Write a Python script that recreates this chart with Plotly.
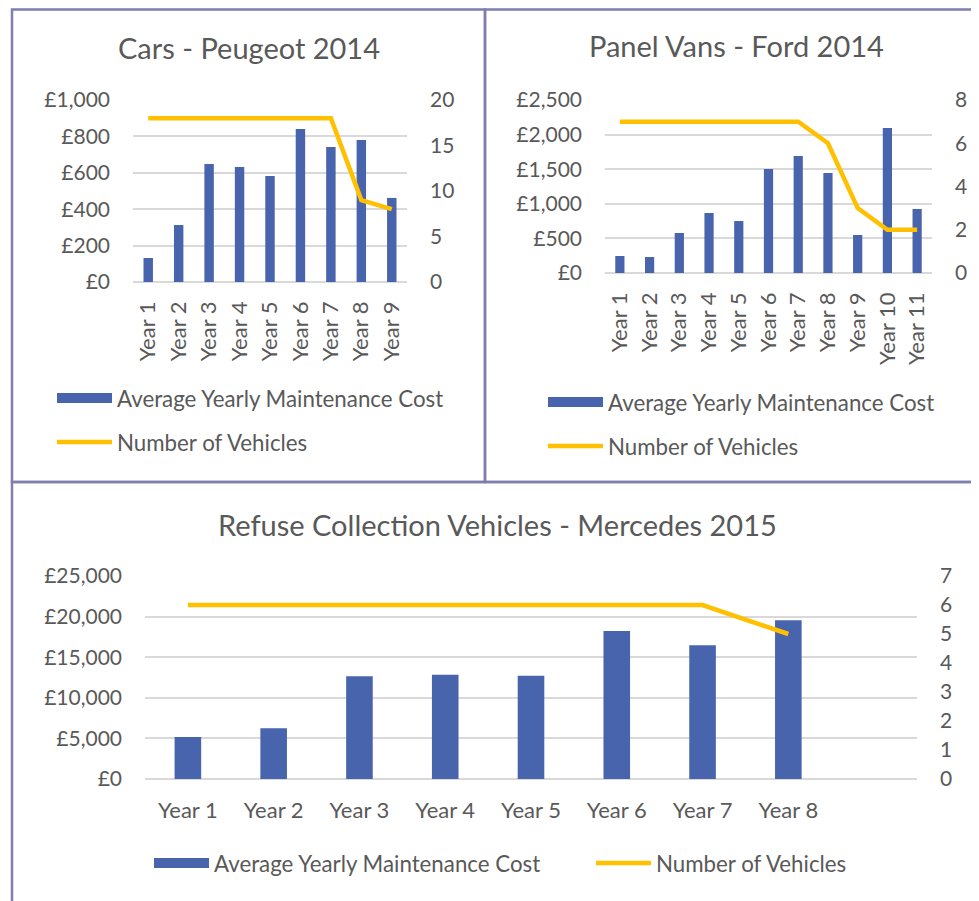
import plotly.graph_objects as go

# ---------------- data ----------------
cars_years = ["Year 1", "Year 2", "Year 3", "Year 4", "Year 5", "Year 6", "Year 7", "Year 8", "Year 9"]
cars_cost = [132, 313, 648, 632, 582, 840, 742, 780, 462]
cars_count = [18, 18, 18, 18, 18, 18, 18, 9, 8]

vans_years = ["Year 1", "Year 2", "Year 3", "Year 4", "Year 5", "Year 6", "Year 7", "Year 8", "Year 9", "Year 10", "Year 11"]
vans_cost = [246, 231, 578, 867, 751, 1503, 1690, 1445, 549, 2095, 925]
vans_count = [7, 7, 7, 7, 7, 7, 7, 6, 3, 2, 2]

rcv_years = ["Year 1", "Year 2", "Year 3", "Year 4", "Year 5", "Year 6", "Year 7", "Year 8"]
rcv_cost = [5170, 6240, 12650, 12850, 12730, 18230, 16460, 19540]
rcv_count = [6, 6, 6, 6, 6, 6, 6, 5]

titles = ["Cars - Peugeot 2014", "Panel Vans - Ford 2014", "Refuse Collection Vehicles - Mercedes 2015"]
cost_name = "Average Yearly Maintenance Cost"
count_name = "Number of Vehicles"

# ---------------- style ----------------
OFF = 8                     # default body margin of the html page
W, H = 979, 901
FONT = "Lato"
TXT = "#595959"
BAR = "#4864AC"
LINE = "#FFC000"
GRID = "#D9D9D9"
BORDER = "#7F7FAE"


def px_x(p):
    return (p - OFF) / W


def px_y(p):
    return 1 - (p - OFF) / H


fig = go.Figure()

panels = [
    dict(years=cars_years, cost=cars_cost, count=cars_count, xd=(133, 407), yd=(100, 282),
         yr=(0, 1000), ydt=200, y2r=(0, 20), y2dt=5, angle=-90, xr=None,
         leg=[("legend", 52, 398), ("legend2", 52, 442)]),
    dict(years=vans_years, cost=vans_cost, count=vans_count, xd=(605, 932), yd=(100, 273),
         yr=(0, 2500), ydt=500, y2r=(0, 8), y2dt=2, angle=-90, xr=None,
         leg=[("legend3", 543, 402), ("legend4", 543, 446)]),
    dict(years=rcv_years, cost=rcv_cost, count=rcv_count, xd=(145, 917), yd=(576, 779),
         yr=(0, 25000), ydt=5000, y2r=(0, 7), y2dt=1, angle=0, xr=(-0.5, 8.5),
         leg=[("legend5", 149, 863), ("legend6", 591, 863)]),
]

layout = dict(
    width=W, height=H,
    margin=dict(l=0, r=0, t=0, b=0, autoexpand=False),
    paper_bgcolor="white", plot_bgcolor="white",
    font=dict(family=FONT, color=TXT, size=21),
    bargap=0.69,
    annotations=[], shapes=[],
)

for i, p in enumerate(panels):
    xa = "x" if i == 0 else f"x{i + 1}"
    ya = f"y{2 * i + 1}" if i > 0 else "y"
    ya2 = f"y{2 * i + 2}"
    xkey = "xaxis" if i == 0 else f"xaxis{i + 1}"
    ykey = "yaxis" if i == 0 else f"yaxis{2 * i + 1}"
    y2key = f"yaxis{2 * i + 2}"

    fig.add_trace(go.Bar(
        x=p["years"], y=p["cost"], name=cost_name, marker=dict(color=BAR, line=dict(width=0)),
        xaxis=xa, yaxis=ya, showlegend=False,
    ))
    # legend key for the bar series (wide block, as in the original chart)
    fig.add_trace(go.Scatter(
        x=[None], y=[None], name=cost_name, mode="lines",
        line=dict(color=BAR, width=13), xaxis=xa, yaxis=ya,
        legend=p["leg"][0][0], showlegend=True, hoverinfo="skip",
    ))
    fig.add_trace(go.Scatter(
        x=p["years"], y=p["count"], name=count_name, mode="lines",
        line=dict(color=LINE, width=4.5), xaxis=xa, yaxis=ya2,
        legend=p["leg"][1][0], showlegend=True,
    ))

    xaxis = dict(
        domain=[px_x(p["xd"][0]), px_x(p["xd"][1])], anchor=ya, automargin=False,
        tickangle=p["angle"], showgrid=False, showline=False, ticks="",
        tickfont=dict(size=22, color=TXT), ticklabelstandoff=14 if p["angle"] else 16,
        categoryorder="array", categoryarray=p["years"],
    )
    if p["xr"] is not None:
        xaxis["range"] = list(p["xr"])
    layout[xkey] = xaxis
    layout[ykey] = dict(
        domain=[px_y(p["yd"][1]), px_y(p["yd"][0])], anchor=xa, automargin=False,
        range=list(p["yr"]), dtick=p["ydt"], tickprefix="£", tickformat=",",
        showgrid=True, gridcolor=GRID, gridwidth=1.5,
        zeroline=True, zerolinecolor=GRID, zerolinewidth=1.5,
        showline=False, ticks="", tickfont=dict(size=21, color=TXT), ticklabelstandoff=22,
    )
    layout[y2key] = dict(
        domain=[px_y(p["yd"][1]), px_y(p["yd"][0])], anchor=xa, overlaying=ya, side="right",
        automargin=False,
        range=list(p["y2r"]), dtick=p["y2dt"], showgrid=False, zeroline=False,
        showline=False, ticks="", tickfont=dict(size=21, color=TXT), ticklabelstandoff=22,
    )

    for key, lx, ly in p["leg"]:
        layout[key] = dict(
            x=px_x(lx), y=px_y(ly), xanchor="left", yanchor="middle",
            bgcolor="rgba(0,0,0,0)", font=dict(size=22.3, color=TXT, family=FONT),
            itemwidth=55, orientation="v",
        )

# titles
for t, cx, cy in zip(titles, [249, 736, 497], [47, 45, 524]):
    layout["annotations"].append(dict(
        text=t, x=px_x(cx), y=px_y(cy), xref="paper", yref="paper",
        xanchor="center", yanchor="middle", showarrow=False,
        font=dict(size=29, color=TXT, family=FONT),
    ))

# panel borders
for x0, y0, x1, y1 in [(12, 9.5, 485, 482), (485, 9.5, 990, 482), (12, 482, 990, 910)]:
    layout["shapes"].append(dict(
        type="rect", xref="paper", yref="paper",
        x0=px_x(x0), x1=px_x(x1), y0=px_y(y1), y1=px_y(y0),
        line=dict(color=BORDER, width=2.5), fillcolor="rgba(0,0,0,0)",
    ))

fig.update_layout(**layout)
fig.write_html("out.html")
